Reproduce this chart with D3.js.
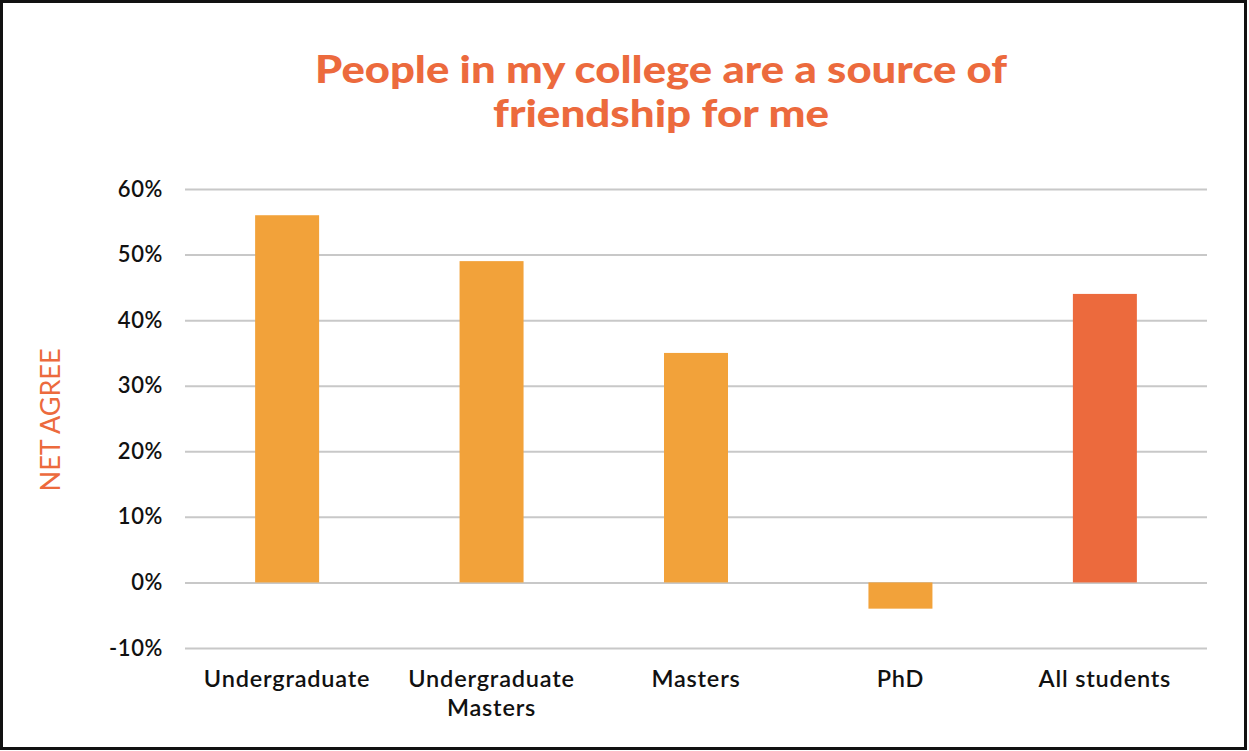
<!DOCTYPE html>
<html>
<head>
<meta charset="utf-8">
<script src="https://cdn.jsdelivr.net/npm/d3@7"></script>
<style>
  html, body { margin: 0; padding: 0; background: #fff; }
  svg { display: block; }
</style>
</head>
<body>
<svg id="chart" width="1249" height="751"></svg>
<script>
// Net agreement by student group
const categories = ["Undergraduate", "Undergraduate\nMasters", "Masters", "PhD", "All students"];
const netAgree = [0.56, 0.49, 0.35, -0.04, 0.44];
const barColors = ["#F2A23A", "#F2A23A", "#F2A23A", "#F2A23A", "#EC6A3D"];
const yTicks = [-0.1, 0, 0.1, 0.2, 0.3, 0.4, 0.5, 0.6];
const titleLines = ["People in my college are a source of", "friendship for me"];
const yTitle = "NET AGREE";

const W = 1249, H = 751;
const margin = { left: 185, right: 42, top: 189, bottom: 103 };

const svg = d3.select("#chart");

// outer frame
svg.append("rect")
  .attr("x", 1.5).attr("y", 1.5)
  .attr("width", W - 5).attr("height", H - 4)
  .attr("fill", "#fff").attr("stroke", "#111").attr("stroke-width", 3);

const x = d3.scaleBand()
  .domain(categories)
  .range([margin.left, W - margin.right])
  .paddingInner(0.687)
  .paddingOuter(0.343);

const y = d3.scaleLinear()
  .domain([-0.1, 0.6])
  .range([H - margin.bottom, margin.top]);

// gridlines + tick labels
const yAxis = d3.axisLeft(y)
  .tickValues(yTicks)
  .tickFormat(d => Math.round(d * 100) + "%")
  .tickSize(-(W - margin.right - margin.left))
  .tickPadding(22);

const gy = svg.append("g")
  .attr("transform", `translate(${margin.left},0)`)
  .call(yAxis);
gy.select(".domain").remove();
gy.selectAll(".tick line").attr("stroke", "#c8c8c8").attr("stroke-width", 2);
gy.selectAll(".tick text")
  .attr("fill", "#111")
  .attr("font-family", "Lato, 'Open Sans', sans-serif")
  .attr("font-size", 22)
  .attr("font-weight", 600)
  .attr("letter-spacing", 0.6);

// bars
svg.append("g").selectAll("rect")
  .data(categories)
  .join("rect")
  .attr("x", d => x(d))
  .attr("width", x.bandwidth())
  .attr("y", (d, i) => y(Math.max(0, netAgree[i])))
  .attr("height", (d, i) => Math.abs(y(netAgree[i]) - y(0)))
  .attr("fill", (d, i) => barColors[i]);

// category labels
const xAxis = d3.axisBottom(x).tickSize(0).tickPadding(0);
const gx = svg.append("g")
  .attr("transform", `translate(0,${H - margin.bottom})`)
  .call(xAxis);
gx.select(".domain").remove();
gx.selectAll(".tick text").each(function(d) {
  const t = d3.select(this);
  const lines = d.split("\n");
  t.text(null)
    .attr("y", 0)
    .attr("dy", null)
    .attr("fill", "#111")
    .attr("font-family", "Lato, 'Open Sans', sans-serif")
    .attr("font-size", 23.5)
    .attr("font-weight", 600)
    .attr("letter-spacing", 0.8);
  lines.forEach((ln, k) => {
    t.append("tspan").attr("x", 0).attr("y", 39 + k * 29).text(ln);
  });
});

// y-axis title
svg.append("text")
  .attr("transform", `translate(60,420) rotate(-90)`)
  .attr("text-anchor", "middle")
  .attr("fill", "#EC6A3D")
  .attr("font-family", "Lato, 'Open Sans', sans-serif")
  .attr("font-size", 27)
  .attr("font-weight", 400)
  .text(yTitle);

// chart title
const titleWidths = [692, 336];
const title = svg.append("text")
  .attr("text-anchor", "middle")
  .attr("fill", "#EC6A3D")
  .attr("font-family", "Lato, 'Open Sans', sans-serif")
  .attr("font-size", 38)
  .attr("font-weight", 900);
titleLines.forEach((ln, k) => {
  title.append("tspan")
    .attr("x", 661)
    .attr("y", 83 + k * 44)
    .attr("textLength", titleWidths[k])
    .attr("lengthAdjust", "spacingAndGlyphs")
    .text(ln);
});
</script>
</body>
</html>
